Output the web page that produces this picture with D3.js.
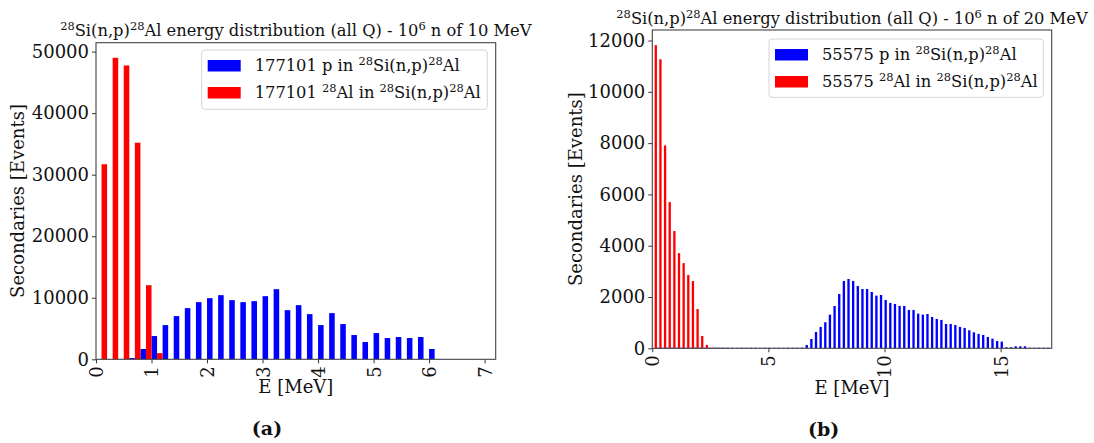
<!DOCTYPE html>
<html>
<head>
<meta charset="utf-8">
<script src="https://cdn.jsdelivr.net/npm/d3@7"></script>
<style>
  body { margin: 0; background: #fff; }
  svg text { font-family: "DejaVu Serif", serif; fill: #111; }
</style>
</head>
<body>
<svg id="chart" width="1094" height="443"></svg>
<script>
// (a) 10 MeV neutrons, bins of 0.2 MeV
var redA = [31700, 49000, 47750, 35200, 12040, 1000];
var blueA = [0, 0, 216, 1674, 3780, 5562, 7020, 8316, 9288, 9936, 10422, 9612, 9288, 9450, 10260,
             11394, 7992, 8802, 7344, 5562, 7506, 5724, 3942, 2808, 4266, 3456, 3618, 3456, 3618, 1674];

// (b) 20 MeV neutrons, bins of 0.2 MeV
var redB = [11820, 11270, 7910, 5700, 4570, 3710, 3320, 2860, 2620, 1530, 480, 130, 22, 24, 20, 18];
var blueB = [22, 20, 24, 22, 21, 23, 20, 22, 24, 21, 22, 20, 23, 22, 21, 24,
             22, 20, 23, 21, 22, 24, 20, 22, 23, 21, 22, 20, 24, 22, 23, 26,
             130, 364, 637, 832, 1014, 1313, 1650, 2118, 2625, 2703, 2625, 2430, 2313, 2313, 2196, 2053,
             2079, 1885, 1768, 1729, 1651, 1651, 1495, 1495, 1352, 1313, 1339, 1222, 1144, 1105, 949, 949,
             910, 832, 793, 702, 624, 559, 520, 442, 377, 286, 260, 40, 40, 78, 78, 78, 24, 22, 25, 22, 23];

var binWidth = 0.2;
var ticksA = [0, 1, 2, 3, 4, 5, 6, 7];
var ticksB = [0, 5, 10, 15];
var yTicksA = [0, 10000, 20000, 30000, 40000, 50000];
var yTicksB = [0, 2000, 4000, 6000, 8000, 10000, 12000];

var titleA = "^{28}Si(n,p)^{28}Al energy distribution (all Q) - 10^{6} n of 10 MeV";
var titleB = "^{28}Si(n,p)^{28}Al energy distribution (all Q) - 10^{6} n of 20 MeV";
var legendA = ["177101 p in ^{28}Si(n,p)^{28}Al", "177101 ^{28}Al in ^{28}Si(n,p)^{28}Al"];
var legendB = ["55575 p in ^{28}Si(n,p)^{28}Al", "55575 ^{28}Al in ^{28}Si(n,p)^{28}Al"];

var svg = d3.select("#chart");

// writes "a^{b}c" as text with raised tspans
function richText(sel, str, size) {
    var parts = str.split(/\^\{([^}]*)\}/);
    var shift = 0;
    parts.forEach(function(p, i) {
        if (p === "") return;
        var sup = i % 2 === 1;
        var t = sel.append("tspan").text(p);
        if (sup) {
            t.attr("font-size", size * 0.7).attr("dy", -size * 0.38 - shift);
            shift = -size * 0.38;
        } else {
            t.attr("dy", -shift);
            shift = 0;
        }
    });
}

function drawPanel(cfg) {
    var g = svg.append("g");
    var x = d3.scaleLinear().domain(cfg.xDomain).range([cfg.x0, cfg.x1]);
    var y = d3.scaleLinear().domain([0, d3.max(cfg.red.concat(cfg.blue)) * 1.05]).range([cfg.y1, cfg.y0]);

    var half = binWidth / 2;
    var centre = function(i) { return binWidth * (i + 1); };

    g.append("g").selectAll("rect")
        .data(cfg.blue)
        .enter().append("rect")
        .attr("x", function(d, i) { return x(centre(i)); })
        .attr("width", function(d, i) { return x(centre(i) + half) - x(centre(i)); })
        .attr("y", function(d) { return y(d); })
        .attr("height", function(d) { return y(0) - y(d); })
        .attr("fill", "#0000ff");

    g.append("g").selectAll("rect")
        .data(cfg.red)
        .enter().append("rect")
        .attr("x", function(d, i) { return x(centre(i) - half); })
        .attr("width", function(d, i) { return x(centre(i)) - x(centre(i) - half); })
        .attr("y", function(d) { return y(d); })
        .attr("height", function(d) { return y(0) - y(d); })
        .attr("fill", "#ff0000");

    // axes
    var xAxis = g.append("g")
        .attr("transform", "translate(0," + cfg.y1 + ")")
        .call(d3.axisBottom(x).tickValues(cfg.xTicks).tickSize(4).tickFormat(d3.format("d")));
    xAxis.selectAll("text")
        .attr("font-size", 18)
        .attr("transform", "rotate(-90)")
        .attr("text-anchor", "end")
        .attr("x", -7).attr("y", 0).attr("dy", "0.36em");

    var yAxis = g.append("g")
        .attr("transform", "translate(" + cfg.x0 + ",0)")
        .call(d3.axisLeft(y).tickValues(cfg.yTicks).tickSize(4).tickPadding(3).tickFormat(d3.format("d")));
    yAxis.selectAll("text").attr("font-size", 18);
    g.selectAll(".domain").remove();
    g.selectAll(".tick line").attr("stroke", "#333");
    g.selectAll(".tick text").attr("fill", "#111").attr("font-family", "DejaVu Serif");

    g.append("rect")
        .attr("x", cfg.x0).attr("y", cfg.y0)
        .attr("width", cfg.x1 - cfg.x0).attr("height", cfg.y1 - cfg.y0)
        .attr("fill", "none").attr("stroke", "#444").attr("stroke-width", 1.1);

    // title and labels
    var title = g.append("text")
        .attr("x", (cfg.x0 + cfg.x1) / 2).attr("y", cfg.titleY)
        .attr("text-anchor", "middle").attr("font-size", 16.3);
    richText(title, cfg.title, 16.3);

    g.append("text")
        .attr("x", (cfg.x0 + cfg.x1) / 2).attr("y", cfg.xLabelY)
        .attr("text-anchor", "middle").attr("font-size", 18)
        .text("E [MeV]");

    g.append("text")
        .attr("transform", "translate(" + cfg.yLabelX + "," + (cfg.y0 + cfg.y1) / 2 + ") rotate(-90)")
        .attr("text-anchor", "middle").attr("font-size", 18)
        .text("Secondaries [Events]");

    g.append("text")
        .attr("x", cfg.capX).attr("y", cfg.capY)
        .attr("text-anchor", "middle").attr("font-size", 19).attr("font-weight", "bold")
        .text(cfg.caption);

    // legend
    var lg = g.append("g");
    lg.append("rect")
        .attr("x", cfg.leg.x).attr("y", cfg.leg.y)
        .attr("width", cfg.leg.w).attr("height", cfg.leg.h)
        .attr("rx", 3)
        .attr("fill", "#fff").attr("fill-opacity", 0.8)
        .attr("stroke", "#d4d4d4");
    [["#0000ff", cfg.legend[0]], ["#ff0000", cfg.legend[1]]].forEach(function(row, i) {
        var top = cfg.leg.y + 10 + i * 27;
        lg.append("rect")
            .attr("x", cfg.leg.x + 6).attr("y", top)
            .attr("width", 33).attr("height", 11.5)
            .attr("fill", row[0]);
        var t = lg.append("text")
            .attr("x", cfg.leg.x + 53).attr("y", top + 11)
            .attr("font-size", 16.3);
        richText(t, row[1], 16.3);
    });
}

drawPanel({
    red: redA, blue: blueA,
    xDomain: [0, 7.2], xTicks: ticksA, yTicks: yTicksA,
    x0: 96, x1: 495.7, y0: 42.7, y1: 359.3,
    title: titleA, titleY: 36,
    xLabelY: 393, yLabelX: 24,
    caption: "(a)", capX: 267, capY: 435,
    legend: legendA,
    leg: { x: 201.7, y: 50, w: 285.6, h: 59.3 }
});

drawPanel({
    red: redB, blue: blueB,
    xDomain: [0, 17.2], xTicks: ticksB, yTicks: yTicksB,
    x0: 652.3, x1: 1051.7, y0: 30, y1: 348.3,
    title: titleB, titleY: 24,
    xLabelY: 394, yLabelX: 581.5,
    caption: "(b)", capX: 823.7, capY: 436,
    legend: legendB,
    leg: { x: 769, y: 39, w: 274.3, h: 58.3 }
});
</script>
</body>
</html>
